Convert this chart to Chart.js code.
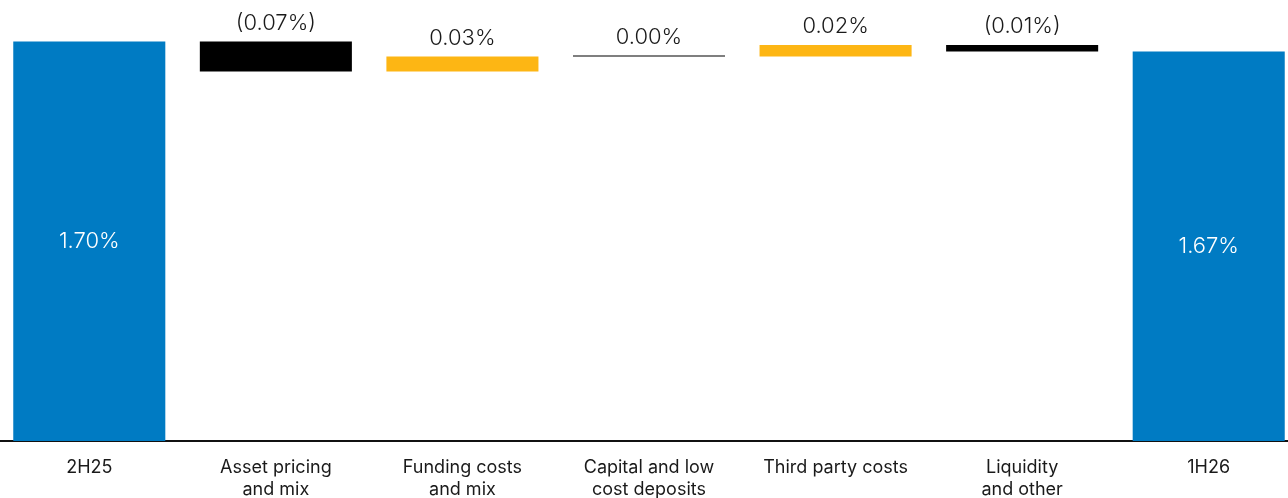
<!DOCTYPE html>
<html>
<head>
<meta charset="utf-8">
<script src="https://cdn.jsdelivr.net/npm/chart.js@4"></script>
<style>
  html, body { margin: 0; padding: 0; background: #fff; overflow: hidden; }
  #wrap { position: absolute; left: -4px; top: 0; width: 1306px; height: 498px; }
</style>
</head>
<body>
<div id="wrap"><canvas id="nimChart" width="1306" height="498"></canvas></div>
<script>
// Margin walk 2H25 -> 1H26
const categories = [
    ['2H25'],
    ['Asset pricing', 'and mix'],
    ['Funding costs', 'and mix'],
    ['Capital and low', 'cost deposits'],
    ['Third party costs'],
    ['Liquidity', 'and other'],
    ['1H26']
];
const startValue = 1.70;
const changes = [-0.09, 0.045, 0.0, 0.035, -0.02];
const valueLabels = ['1.70%', '(0.07%)', '0.03%', '0.00%', '0.02%', '(0.01%)', '1.67%'];
const axisMin = 0.5;
const axisMax = 1.825;

const BLUE = '#007BC3';
const YELLOW = '#FDB614';
const BLACK = '#000000';

// build floating bars from the steps
const bars = [[axisMin, startValue]];
const colors = [BLUE];
let level = startValue;
changes.forEach(c => {
    const next = Math.round((level + c) * 1000) / 1000;
    bars.push([Math.min(level, next), Math.max(level, next)]);
    colors.push(c > 0 ? YELLOW : BLACK);
    level = next;
});
bars.push([axisMin, level]);
colors.push(BLUE);

const valueLabelPlugin = {
    id: 'valueLabels',
    afterDatasetsDraw(chart) {
        const ctx = chart.ctx;
        const meta = chart.getDatasetMeta(0);
        ctx.save();
        ctx.font = "300 22px 'Inter', sans-serif";
        ctx.textAlign = 'center';
        meta.data.forEach((bar, i) => {
            const isTotal = i === 0 || i === meta.data.length - 1;
            if (isTotal) {
                ctx.fillStyle = '#ffffff';
                ctx.textBaseline = 'middle';
                ctx.fillText(valueLabels[i], bar.x, (bar.y + bar.base) / 2);
            } else {
                const top = Math.min(bar.y, bar.base);
                ctx.fillStyle = '#1a1a1a';
                ctx.textBaseline = 'alphabetic';
                ctx.fillText(valueLabels[i], bar.x, top - 12);
            }
        });
        ctx.restore();
    }
};

document.addEventListener('DOMContentLoaded', () => {
    const el = document.getElementById('nimChart');
    new Chart(el, {
        type: 'bar',
        data: {
            labels: categories,
            datasets: [{
                data: bars,
                backgroundColor: colors,
                borderWidth: 0,
                minBarLength: 1,
                barPercentage: 0.815,
                categoryPercentage: 1.0
            }]
        },
        options: {
            responsive: false,
            animation: false,
            layout: { padding: 0 },
            plugins: {
                legend: { display: false },
                tooltip: { enabled: false }
            },
            scales: {
                y: {
                    display: false,
                    min: axisMin,
                    max: axisMax
                },
                x: {
                    afterFit: scale => { scale.height = 57; },
                    grid: { display: false, drawTicks: false },
                    border: { display: true, color: '#111111', width: 2 },
                    ticks: {
                        color: '#1a1a1a',
                        padding: 16,
                        maxRotation: 0,
                        autoSkip: false,
                        font: {
                            size: 18,
                            family: "'Inter', sans-serif",
                            weight: '400',
                            lineHeight: 1.2
                        }
                    }
                }
            }
        },
        plugins: [valueLabelPlugin]
    });
});
</script>
</body>
</html>
